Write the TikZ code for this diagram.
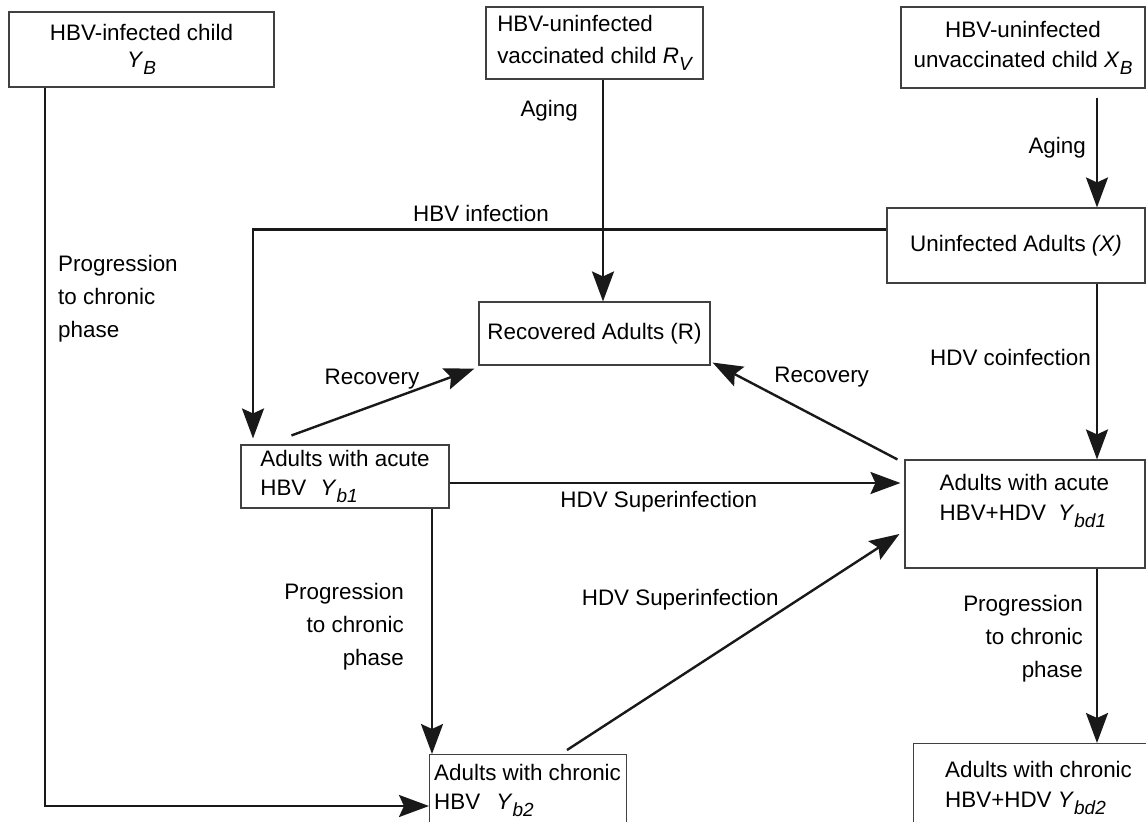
\documentclass[tikz,border=0pt]{standalone}
\usepackage{fontspec}
\setmainfont{Liberation Sans}
\usetikzlibrary{arrows.meta,positioning}

\newcommand{\cvar}[2]{\textit{#1}\raisebox{-7pt}{\fontsize{19}{19}\selectfont\itshape #2}}

\begin{document}
\begin{tikzpicture}[
  x=1pt, y=-1pt,
  >={Stealth[length=30pt,width=22pt,inset=5pt]},
  font=\fontsize{22.4}{32}\selectfont,
  box/.style={draw=black!75,line width=1.1pt,inner sep=0pt},
  flow/.style={->,line width=2.4pt,draw=black!90},
  lbl/.style={inner sep=0pt}
]
  \useasboundingbox (0,0) rectangle (1146,822);
  \clip (0,0) rectangle (1146,822);

  % children
  \node[box,minimum width=265,minimum height=75,align=center] (childB) at (141.5,49.5)
    {HBV-infected child\\[-5pt]\cvar{Y}{B}};
  \node[box,minimum width=217,minimum height=72,align=left] (childV) at (594.5,43)
    {HBV-uninfected\\vaccinated child \cvar{R}{V}};
  \node[box,minimum width=244,minimum height=81,align=center] (childX) at (1023,47.5)
    {HBV-uninfected\\[-2pt]unvaccinated child \cvar{X}{B}};

  % adults
  \node[box,minimum width=258,minimum height=75] (adultX) at (1016,245.5)
    {Uninfected Adults \textit{(X)}};
  \node[box,minimum width=231,minimum height=63] (rec) at (594.5,333.5)
    {Recovered Adults (R)};
  \node[box,minimum width=208,minimum height=63,align=left] (Yb1) at (345,476.5)
    {Adults with acute\\[-3pt]HBV\hspace{14pt}\cvar{Y}{b1}};
  \node[box,minimum width=240,minimum height=108] (Ybd1) at (1025,514) {};
  \node[lbl,align=left,below right=14.5pt and 35pt of Ybd1.north west] (Ybd1txt)
    {Adults with acute\\[-2pt]HBV+HDV\hspace{12pt}\cvar{Y}{bd1}};
  \node[box,minimum width=197,minimum height=120,anchor=north west] (Yb2) at (429,754) {};
  \node[lbl,align=left,below right=10pt and 5pt of Yb2.north west] (Yb2txt)
    {Adults with chronic\\[-3pt]HBV\hspace{16pt}\cvar{Y}{b2}};
  \node[box,minimum width=260,minimum height=120,anchor=north west] (Ybd2) at (913,743) {};
  \node[lbl,align=left,below right=18pt and 32pt of Ybd2.north west] (Ybd2txt)
    {Adults with chronic\\[-2pt]HBV+HDV \cvar{Y}{bd2}};

  % columns of the vertical flows
  \coordinate (colL) at (45,0);
  \coordinate (colA) at (253,0);
  \coordinate (colP) at (432,0);
  \coordinate (colV) at (603,0);
  \coordinate (colR) at (1097,0);
  \coordinate (supA) at ([yshift=-6.5pt]Yb1.east);

  \draw[flow] (childB.south -| colL) |- node[lbl,pos=.147,right=12pt,align=left]
    {Progression\\[1pt]to chronic\\[1pt]phase} ([yshift=-52pt]Yb2.north west);
  \draw[flow] (childV.south -| colV) -- node[lbl,pos=.14,left=24pt]{Aging} (rec.north -| colV);
  \draw[flow,shorten <=9pt] (childX.south -| colR) -- node[lbl,left=10pt]{Aging} (adultX.north -| colR);
  \draw[flow,shorten >=6pt] ([yshift=16pt]adultX.west) -| node[lbl,pos=.32,above=7pt]{HBV infection}
    (Yb1.north -| colA);
  \draw[flow] (adultX.south -| colR) -- node[lbl,pos=.42,left=5pt]{HDV coinfection} (Ybd1.north -| colR);

  \draw[flow] ([xshift=51pt,yshift=9pt]Yb1.north west) -- node[lbl,pos=.44,above=16pt]{Recovery}
    ([xshift=-4pt,yshift=-3pt]rec.south west);
  \draw[flow] ([xshift=-7pt]Ybd1.north west) -- node[lbl,pos=.41,above=31pt]{Recovery}
    ([xshift=2pt,yshift=3pt]rec.south east);

  \draw[flow,shorten >=4pt] (supA) -- node[lbl,pos=.46,below=7pt]{HDV Superinfection} (supA -| Ybd1.west);
  \draw[flow] ([xshift=138pt,yshift=4pt]Yb2.north west) -- node[lbl,pos=.64,anchor=south east]
    {HDV Superinfection} ([xshift=-5pt,yshift=-20pt]Ybd1.west);

  \draw[flow] (Yb1.south -| colP) -- node[lbl,pos=.48,left=27pt,align=right]
    {Progression\\[1pt]to chronic~\\[1pt]phase} (Yb2.north -| colP);
  \draw[flow] (Ybd1.south -| colR) -- node[lbl,pos=.4,left=13pt,align=right]
    {Progression\\[1pt]to chronic~\\[1pt]phase} (Ybd2.north -| colR);
\end{tikzpicture}
\end{document}
